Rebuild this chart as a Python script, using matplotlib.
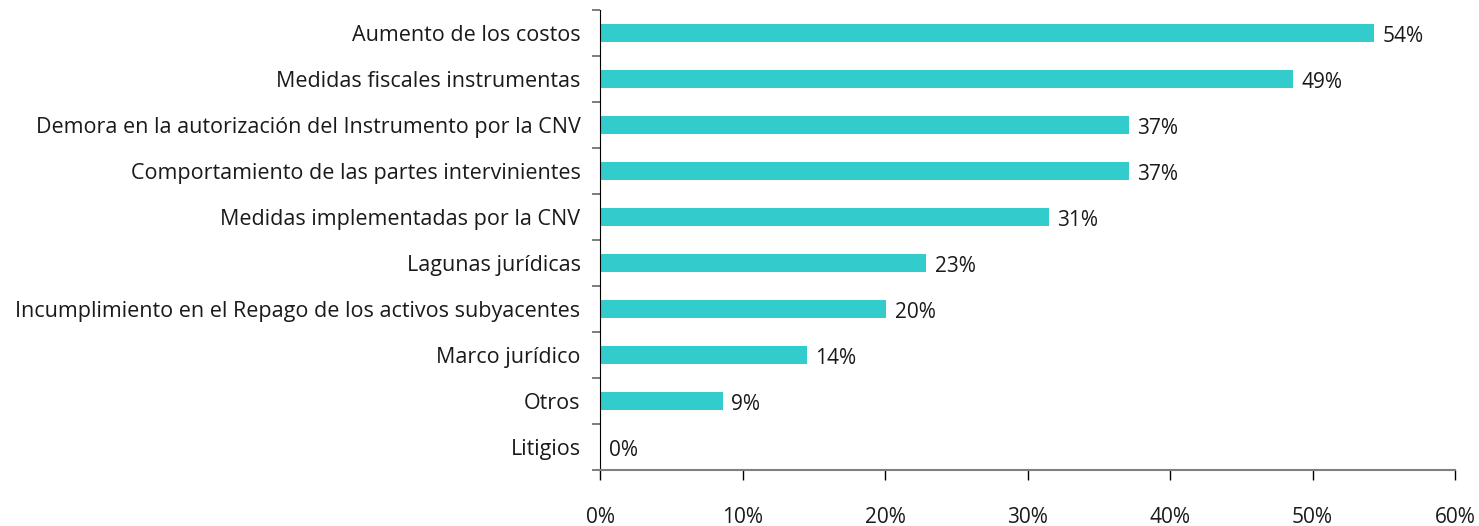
import matplotlib
matplotlib.use("Agg")
import matplotlib.pyplot as plt
from matplotlib.ticker import MultipleLocator, FuncFormatter, FixedLocator

# Categories, top to bottom
categories = [
    "Aumento de los costos",
    "Medidas fiscales instrumentas",
    "Demora en la autorización del Instrumento por la CNV",
    "Comportamiento de las partes intervinientes",
    "Medidas implementadas por la CNV",
    "Lagunas jurídicas",
    "Incumplimiento en el Repago de los activos subyacentes",
    "Marco jurídico",
    "Otros",
    "Litigios",
]
values = [54.3, 48.6, 37.1, 37.1, 31.5, 22.9, 20.1, 14.5, 8.6, 0.0]
labels = ["54%", "49%", "37%", "37%", "31%", "23%", "20%", "14%", "9%", "0%"]

plt.rcParams['font.family'] = ['Open Sans', 'DejaVu Sans']

fig = plt.figure(figsize=(14.79, 5.26), dpi=100)
ax = fig.add_axes([0.4057, 0.1065, 0.9838 - 0.4057, 0.981 - 0.1065])

n = len(categories)
ypos = list(range(n))
ax.barh(ypos, values, height=0.4, color="#33CCCC")
for y, v, lab in zip(ypos, values, labels):
    ax.text(v + 0.6, y + 0.08, lab, va="center", ha="left", fontsize=15, color="#1a1a1a")

ax.set_ylim(n - 0.5, -0.5)
ax.set_xlim(0, 60)
ax.set_yticks(ypos)
ax.set_yticklabels(categories, fontsize=15.5, color="#1a1a1a")
for t in ax.get_yticklabels():
    t.set_y(t.get_position()[1])
ax.tick_params(axis="y", which="major", length=0, pad=14)
ax.yaxis.set_minor_locator(FixedLocator([i - 0.5 for i in range(n + 1)]))
ax.tick_params(axis="y", which="minor", length=6, color="#666666", width=1.2)

ax.xaxis.set_major_locator(MultipleLocator(10))
ax.xaxis.set_major_formatter(FuncFormatter(lambda x, p: f"{x:.0f}%"))
ax.tick_params(axis="x", length=7, color="#000000", width=1, pad=20, labelsize=15, labelcolor="#1a1a1a")

for s in ["top", "right"]:
    ax.spines[s].set_visible(False)
ax.spines["left"].set_color("#000000")
ax.spines["bottom"].set_color("#808080")
ax.spines["bottom"].set_linewidth(1.5)

fig.savefig("out.png", dpi=100)
